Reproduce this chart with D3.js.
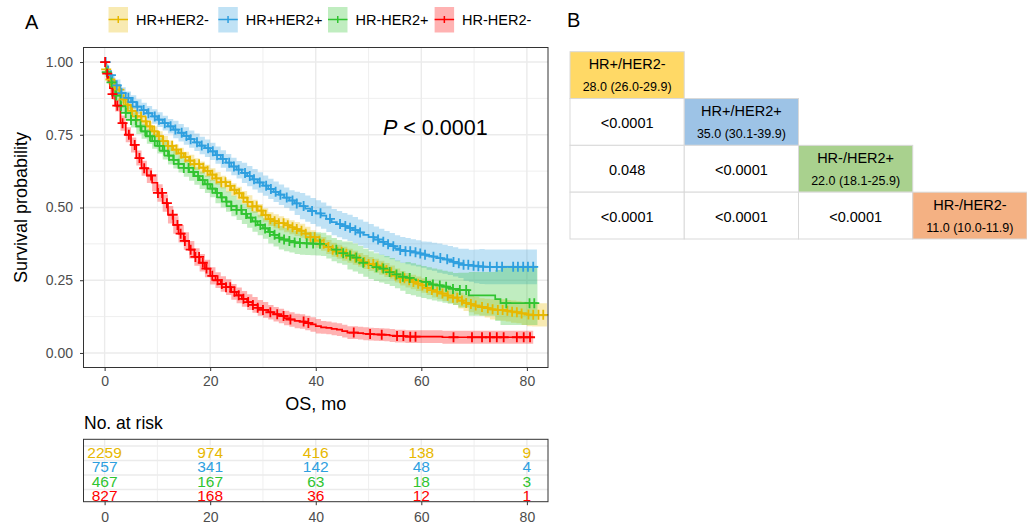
<!DOCTYPE html>
<html><head><meta charset="utf-8">
<script src="https://cdn.jsdelivr.net/npm/d3@7"></script>
<style>body{margin:0;background:#fff;} svg{display:block;}</style>
</head><body>
<svg id="c" width="1027" height="524"></svg>
<script>
// ---------------- DATA ----------------
const groups = ["HR+HER2-", "HR+HER2+", "HR-HER2+", "HR-HER2-"];
const colors = ["#E7B800", "#2E9FDF", "#30C430", "#FF0000"];
const times = [0,0.3,0.7,1,1.5,2,3,4,5,6,7,8,9,10,11,12,13,14,15,16,17,18,19,20,21,22,23,24,25,26,27,28,29,30,31,32,33,34,35,36,37,38,39,40,41,42,43,44,45,46,47,48,49,50,51,52,53,54,55,56,57,58,59,60,61,62,63,64,65,66,67,68,69,70,71,72,73,74,75,76,77,78,79,80,81,82,83,84];
const endTimes = [83.8, 81.9, 82.0, 81.2];

const yellowSurv = [1,.975,.955,.94,.92,.905, .872,.852,.832,.813,.796,.779,.762,.745, .728,.712,.699,.686,.673,.661,.649,.637,.626,.613, .6,.587,.574,.561,.549,.534,.519,.504,.489,.474, .46,.453,.446,.439,.432,.426,.42,.41,.398,.386, .375,.364,.355,.348,.341,.334,.327,.32,.313,.306, .3,.293,.285,.277,.266,.257,.25,.244,.238,.232, .224,.216,.21,.204,.197,.19,.18,.172,.168,.163, .158,.154,.15,.148,.148,.145,.142,.14,.136,.132, .131];
const yellowLo = [1,.970,.948,.932,.910,.893, .859,.838,.817,.796,.779,.762,.745,.728, .710,.694,.681,.667,.654,.641,.629,.616,.605,.591, .578,.565,.552,.539,.527,.511,.496,.481,.466,.451, .436,.429,.422,.415,.408,.402,.396,.386,.374,.362, .351,.340,.331,.324,.317,.310,.303,.296,.289,.282, .276,.269,.261,.253,.242,.232,.225,.219,.213,.207, .199,.191,.185,.179,.172,.165,.153,.144,.140,.133, .128,.122,.115,.113,.111,.108,.104,.102,.096,.092, .091];
const yellowHi = [1,.980,.962,.948,.930,.917, .885,.866,.847,.830,.813,.796,.779,.762, .746,.730,.717,.705,.692,.681,.669,.658,.647,.635, .622,.609,.596,.583,.571,.557,.542,.527,.512,.497, .484,.477,.470,.463,.456,.450,.444,.434,.422,.410, .399,.388,.379,.372,.365,.358,.351,.344,.337,.330, .324,.317,.309,.301,.290,.282,.275,.269,.263,.257, .249,.241,.235,.229,.222,.215,.207,.200,.196,.193, .188,.186,.185,.183,.185,.182,.180,.178,.176,.172, .171];

const blueSurv = [1,.985,.965,.955,.935,.92, .893,.877,.862,.847,.835,.824,.813,.802, .79,.779,.768,.757,.746,.735,.724,.713,.704,.693, .68,.667,.654,.641,.63,.619,.608,.597,.586,.575, .564,.554,.544,.534,.524,.514,.505,.496,.488,.48, .472,.461,.45,.443,.436,.43,.422,.414,.406,.398, .39,.382,.374,.367,.36,.354,.35,.346,.342,.338, .334,.331,.326,.322,.318,.313,.308,.303,.3,.298, .297,.296];
const blueLo = [1,.977,.955,.943,.919,.900, .873,.855,.838,.822,.810,.799,.788,.777, .765,.754,.738,.727,.716,.705,.694,.683,.674,.663, .650,.637,.624,.611,.600,.584,.573,.562,.551,.540, .529,.519,.509,.499,.489,.474,.460,.451,.443,.435, .427,.416,.405,.398,.391,.385,.377,.369,.361,.353, .345,.337,.329,.322,.315,.309,.305,.301,.297,.293, .286,.283,.276,.272,.268,.263,.258,.248,.245,.240, .237,.236];
const blueHi = [1,.993,.975,.967,.951,.940, .913,.899,.886,.872,.860,.849,.838,.827, .815,.804,.798,.787,.776,.765,.754,.743,.734,.723, .710,.697,.684,.671,.660,.654,.643,.632,.621,.610, .599,.589,.579,.569,.559,.554,.550,.541,.533,.525, .517,.506,.495,.488,.481,.475,.467,.459,.451,.443, .435,.427,.419,.412,.405,.399,.395,.391,.387,.383, .382,.379,.376,.372,.368,.363,.358,.358,.355,.356, .357,.356];

const greenSurv = [1,.965,.945,.93,.905,.885, .848,.825,.801,.779,.762,.745,.728,.712, .695,.678,.664,.65,.636,.622,.608,.594,.58,.565, .55,.535,.52,.505,.492,.478,.465,.452,.44,.428, .416,.406,.396,.39,.385,.38,.378,.377,.376,.375, .373,.365,.355,.348,.343,.335,.328,.32,.31,.302, .295,.29,.285,.278,.27,.262,.258,.253,.248,.244, .24,.235,.232,.228,.224,.22,.216,.216,.198,.198, .198,.198,.198,.185,.171];
const greenLo = [1,.955,.932,.915,.887,.865, .826,.801,.775,.753,.736,.719,.702,.686, .665,.648,.634,.620,.606,.592,.578,.564,.550,.535, .515,.500,.485,.470,.457,.443,.430,.417,.405,.393, .376,.366,.356,.350,.345,.340,.338,.337,.336,.335, .333,.325,.315,.308,.303,.287,.280,.272,.262,.254, .247,.242,.237,.230,.222,.214,.203,.198,.193,.189, .185,.180,.177,.173,.169,.165,.156,.156,.128,.128, .128,.128,.128,.110,.096];
const greenHi = [1,.975,.958,.945,.923,.905, .870,.849,.827,.805,.788,.771,.754,.738, .725,.708,.694,.680,.666,.652,.638,.624,.610,.595, .585,.570,.555,.540,.527,.513,.500,.487,.475,.463, .456,.446,.436,.430,.425,.420,.418,.417,.416,.415, .413,.405,.395,.388,.383,.383,.376,.368,.358,.350, .343,.338,.333,.326,.318,.310,.313,.308,.303,.299, .295,.290,.287,.283,.279,.275,.276,.276,.278,.278, .278,.278,.278,.285,.300];

const redSurv = [1,.96,.935,.91,.89,.85, .79,.75,.715,.67,.635,.61,.585,.55, .515,.475,.44,.41,.385,.355,.33,.31,.29,.265, .25,.237,.226,.21,.198,.186,.175,.165,.155,.148, .14,.133,.127,.12,.115,.11,.108,.103,.098,.092, .088,.086,.083,.08,.075,.07,.07,.068,.066,.065, .064,.063,.062,.06,.058,.058,.056,.056,.056,.056, .056,.056,.056,.054];
const redLo = [1,.948,.923,.890,.870,.830, .764,.724,.689,.644,.609,.584,.555,.520, .485,.445,.410,.380,.355,.325,.300,.280,.260,.235, .223,.210,.199,.183,.171,.159,.148,.138,.128,.121, .115,.108,.102,.095,.090,.085,.083,.078,.073,.067, .066,.064,.061,.058,.053,.048,.048,.046,.044,.043, .042,.041,.040,.038,.036,.036,.034,.034,.034,.034, .034,.034,.034,.032];
const redHi = [1,.972,.947,.930,.910,.870, .816,.776,.741,.696,.661,.636,.615,.580, .545,.505,.470,.440,.415,.385,.360,.340,.320,.295, .277,.264,.253,.237,.225,.213,.202,.192,.182,.175, .165,.158,.152,.145,.140,.135,.133,.128,.123,.117, .110,.108,.105,.102,.097,.092,.092,.090,.088,.087, .086,.085,.084,.082,.080,.080,.078,.078,.078,.078, .078,.078,.078,.076];

const yellowCensor = [0.3,1.1,1.9,2.8,3.6,4.4,5.2,6.1,6.9,7.8,8.6,9.4,10.3,11.1,12,12.8,13.6,14.5,15.3,16.2,17,17.9,18.7,19.5,20.4,21.2,22.1,22.9,23.8,24.6,25.5,26.3,27.1,28,28.8,29.7,30.5,31.4,32.2,33,33.9,34.7,35.6,36.4,37.3,38.1,39,39.8,40.7,41.5,42.4,43.2,44.1,44.9,45.8,46.6,47.5,48.3,49.2,50,50.9,51.7,52.6,53.4,54.3,55.1,56,56.8,57.7,58.5,59.4,60.2,61.1,62,63,64,65,66,66.8,67.7,68.5,69.4,70.3,71.5,72.6,73.5,74.5,75.4,76.3,77.2,78.1,79,80.3,81.2,82.2,83.1];
const blueCensor = [0.2,1.2,2.3,3.2,4.5,5.3,6.2,7.4,8.3,9.5,10.3,11.4,12.5,13.4,14.6,15.5,16.3,17.5,18.4,19.6,20.5,21.3,22.4,23.6,24.5,25.4,26.6,27.5,28.3,29.4,30.6,31.5,32.4,33.3,34.5,35.6,36.4,37.7,39.3,40.9,42.7,44.6,45.6,46.5,47.5,48.4,50.9,51.8,52.8,53.7,54.7,56,57,57.9,58.9,59.8,60.7,62.3,63.6,64.9,66.1,67.1,68,68.9,69.9,70.8,71.7,73,74.3,75.3,77.4,78.3,79.3,80.2,81.2];
const greenCensor = [0.4,1.3,2.2,3.1,4,5,5.9,6.8,7.7,8.6,9.5,10.4,11.3,12.2,13.1,14,15,15.9,16.8,17.7,18.6,19.5,20.4,21.3,22.2,23.1,24,25,25.9,26.8,27.7,28.6,29.5,30.4,31.3,32.2,33.1,34,35,36,37,38.3,39.5,40.8,43.9,45.2,46.5,47.7,49,51.5,52.8,54,55.3,56.5,57.8,60.9,62.2,63.5,64.7,66,67.3,68.5,76.1,80.5,81.4];
const redCensor = [0.1,0.5,1.5,2.4,3.4,4.6,5.7,6.6,7.5,8.8,10.1,10.9,11.8,12.9,13.8,14.4,15.2,16.3,17.2,17.9,18.6,19.3,20.4,21.4,22.2,23,23.8,24.6,25.4,26.3,27.2,28.1,29,30,31.4,32.7,33.9,35.2,37.7,38.6,47.2,50.3,52.5,55.4,56.6,57.9,58.9,66.1,69.6,71.5,73,74.3,75.6,78.1,79.4,80.6];

const riskTimes = [0, 20, 40, 60, 80];
const riskYellow = [2259, 974, 416, 138, 9];
const riskBlue = [757, 341, 142, 48, 4];
const riskGreen = [467, 167, 63, 18, 3];
const riskRed = [827, 168, 36, 12, 1];

const xTicks = [0, 20, 40, 60, 80];
const xMinor = [10, 30, 50, 70];
const yTicks = [0, 0.25, 0.5, 0.75, 1];
const yMinor = [0.125, 0.375, 0.625, 0.875];
const pLabel = "< 0.0001";

const tableNames = ["HR+/HER2-", "HR+/HER2+", "HR-/HER2+", "HR-/HER2-"];
const tableMedians = ["28.0 (26.0-29.9)", "35.0 (30.1-39.9)", "22.0 (18.1-25.9)", "11.0 (10.0-11.9)"];
const tableColors = ["#FFD966", "#9DC3E6", "#A9D18E", "#F4B183"];
const tablePvals = [[], ["<0.0001"], ["0.048", "<0.0001"], ["<0.0001", "<0.0001", "<0.0001"]];

// ---------------- DRAW ----------------
const survs = [yellowSurv, blueSurv, greenSurv, redSurv];
const los = [yellowLo, blueLo, greenLo, redLo];
const his = [yellowHi, blueHi, greenHi, redHi];
const censors = [yellowCensor, blueCensor, greenCensor, redCensor];
const risks = [riskYellow, riskBlue, riskGreen, riskRed];

const FONT = '"Liberation Sans", Arial, Helvetica, sans-serif';
const svg = d3.select("#c").style("font-family", FONT);

const L = 83.5, R = 548, T = 47.5, B = 367.5;
const x = d3.scaleLinear().domain([-4, 84]).range([L, R]);
const y = d3.scaleLinear().domain([-0.05, 1.05]).range([B, T]);
const GRID = "#EBEBEB";

// panel grid
const gp = svg.append("g");
gp.selectAll(".xmn").data(xMinor).join("line").attr("x1", d => x(d)).attr("x2", d => x(d)).attr("y1", T).attr("y2", B).attr("stroke", GRID).attr("stroke-width", 0.8);
gp.selectAll(".ymn").data(yMinor).join("line").attr("y1", d => y(d)).attr("y2", d => y(d)).attr("x1", L).attr("x2", R).attr("stroke", GRID).attr("stroke-width", 0.8);
gp.selectAll(".xmj").data(xTicks).join("line").attr("x1", d => x(d)).attr("x2", d => x(d)).attr("y1", T).attr("y2", B).attr("stroke", GRID).attr("stroke-width", 1.4);
gp.selectAll(".ymj").data(yTicks).join("line").attr("y1", d => y(d)).attr("y2", d => y(d)).attr("x1", L).attr("x2", R).attr("stroke", GRID).attr("stroke-width", 1.4);

function pts(i) {
  const s = survs[i], n = s.length;
  const p = s.map((v, k) => ({t: times[k], s: v, lo: los[i][k], hi: his[i][k]}));
  p.push({t: endTimes[i], s: s[n - 1], lo: los[i][n - 1], hi: his[i][n - 1]});
  return p;
}
const area = d3.area().curve(d3.curveStepAfter).x(d => x(d.t)).y0(d => y(d.lo)).y1(d => y(d.hi));
const line = d3.line().curve(d3.curveStepAfter).x(d => x(d.t)).y(d => y(d.s));

const gc = svg.append("g");
groups.forEach((g, i) => {
  gc.append("path").attr("d", area(pts(i))).attr("fill", colors[i]).attr("fill-opacity", 0.3);
});
groups.forEach((g, i) => {
  gc.append("path").attr("d", line(pts(i))).attr("fill", "none").attr("stroke", colors[i]).attr("stroke-width", 1.7);
});
function survAt(i, t) {
  const n = survs[i].length;
  const k = d3.bisectRight(times.slice(0, n), t) - 1;
  return survs[i][Math.max(0, k)];
}
groups.forEach((g, i) => {
  gc.selectAll(null).data(censors[i]).join("path")
    .attr("transform", t => `translate(${x(t)},${y(survAt(i, t))})`)
    .attr("d", "M-5,0H5M0,-5V5")
    .attr("stroke", colors[i]).attr("stroke-width", 1.8).attr("fill", "none");
});

svg.append("rect").attr("x", L).attr("y", T).attr("width", R - L).attr("height", B - T).attr("fill", "none").attr("stroke", "#333333").attr("stroke-width", 1);

function styleAxis(g) {
  g.select(".domain").remove();
  g.selectAll(".tick line").attr("stroke", "#333333").attr("stroke-width", 1);
  g.selectAll(".tick text").attr("fill", "#4D4D4D").attr("font-size", 14).attr("font-family", FONT);
}
svg.append("g").attr("transform", `translate(${L},0)`)
  .call(d3.axisLeft(y).tickValues(yTicks).tickFormat(d3.format(".2f")).tickSize(3.5).tickPadding(7)).call(styleAxis);
svg.append("g").attr("transform", `translate(0,${B})`)
  .call(d3.axisBottom(x).tickValues(xTicks).tickFormat(d3.format("d")).tickSize(3.5).tickPadding(5)).call(styleAxis);

svg.append("text").attr("transform", "translate(27,207.5) rotate(-90)").attr("text-anchor", "middle").attr("font-size", 18).attr("fill", "#000").text("Survival probability");
svg.append("text").attr("x", (L + R) / 2).attr("y", 410).attr("text-anchor", "middle").attr("font-size", 18).attr("fill", "#000").text("OS, mo");

const pt = svg.append("text").attr("x", 383).attr("y", 135).attr("font-size", 21.5).attr("fill", "#000");
pt.append("tspan").attr("font-style", "italic").text("P");
pt.append("tspan").text(" " + pLabel);

// legend
svg.append("text").attr("x", 25).attr("y", 28.5).attr("font-size", 20).attr("fill", "#000").text("A");
const legX = [108.5, 218.3, 328, 434.6];
groups.forEach((g, i) => {
  const lg = svg.append("g").attr("transform", `translate(${legX[i]},0)`);
  lg.append("rect").attr("x", 0).attr("y", 7).attr("width", 19.5).attr("height", 25.5).attr("fill", colors[i]).attr("fill-opacity", 0.3);
  lg.append("line").attr("x1", 0).attr("x2", 19.5).attr("y1", 19.5).attr("y2", 19.5).attr("stroke", colors[i]).attr("stroke-width", 1.5);
  lg.append("line").attr("x1", 9.75).attr("x2", 9.75).attr("y1", 16).attr("y2", 23).attr("stroke", colors[i]).attr("stroke-width", 1.5);
  lg.append("text").attr("x", 27.5).attr("y", 24.5).attr("font-size", 14.5).attr("fill", "#000").text(g);
});

// risk table
const RT = 439.3, RB = 501.7;
svg.append("text").attr("x", 84).attr("y", 428.5).attr("font-size", 17.5).attr("fill", "#000").text("No. at risk");
const ry = d3.scalePoint().domain(groups).range([446, 489.5]);
const gr = svg.append("g");
gr.selectAll(".rxm").data(xMinor).join("line").attr("x1", d => x(d)).attr("x2", d => x(d)).attr("y1", RT).attr("y2", RB).attr("stroke", GRID).attr("stroke-width", 0.8);
gr.selectAll(".rxj").data(xTicks).join("line").attr("x1", d => x(d)).attr("x2", d => x(d)).attr("y1", RT).attr("y2", RB).attr("stroke", GRID).attr("stroke-width", 1.4);
gr.selectAll(".ryj").data(groups).join("line").attr("y1", d => ry(d)).attr("y2", d => ry(d)).attr("x1", L).attr("x2", R).attr("stroke", GRID).attr("stroke-width", 1.4);
groups.forEach((g, i) => {
  gr.selectAll(null).data(riskTimes).join("text")
    .attr("x", t => x(t)).attr("y", ry(g) + 11.5).attr("text-anchor", "middle")
    .attr("font-size", 15.5).attr("fill", colors[i]).text((t, k) => risks[i][k]);
});
svg.append("rect").attr("x", L).attr("y", RT).attr("width", R - L).attr("height", RB - RT).attr("fill", "none").attr("stroke", "#333333").attr("stroke-width", 1);
svg.append("g").attr("transform", `translate(0,${RB})`)
  .call(d3.axisBottom(x).tickValues(xTicks).tickFormat(d3.format("d")).tickSize(3.5).tickPadding(6.5)).call(styleAxis);

// table B
svg.append("text").attr("x", 567).attr("y", 27).attr("font-size", 20).attr("fill", "#000").text("B");
const cx = d3.scaleBand().domain(d3.range(4)).range([570, 1027]);
const cy = d3.scaleBand().domain(d3.range(4)).range([51.7, 239]);
const gt = svg.append("g");
for (let r = 0; r < 4; r++) {
  for (let c = 0; c <= r; c++) {
    const x0 = cx(c), y0 = cy(r), w = cx.bandwidth(), h = cy.bandwidth();
    gt.append("rect").attr("x", x0).attr("y", y0).attr("width", w).attr("height", h)
      .attr("fill", c === r ? tableColors[r] : "#fff").attr("stroke", "#D9D9D9").attr("stroke-width", 1);
    if (c === r) {
      gt.append("text").attr("x", x0 + w / 2).attr("y", y0 + 17.5).attr("text-anchor", "middle").attr("font-size", 14.5).attr("fill", "#000").text(tableNames[r]);
      gt.append("text").attr("x", x0 + w / 2).attr("y", y0 + 39.5).attr("text-anchor", "middle").attr("font-size", 12.5).attr("fill", "#000").text(tableMedians[r]);
    } else {
      gt.append("text").attr("x", x0 + w / 2).attr("y", y0 + 29.5).attr("text-anchor", "middle").attr("font-size", 14.5).attr("fill", "#000").text(tablePvals[r][c]);
    }
  }
}
</script>
</body></html>
